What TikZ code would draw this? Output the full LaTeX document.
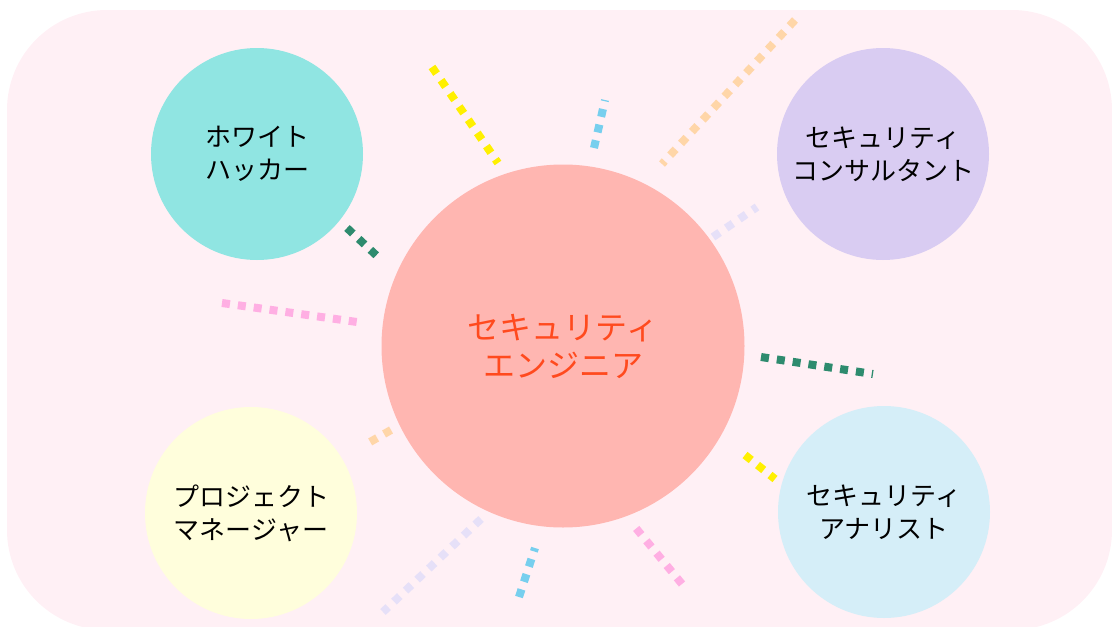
\documentclass[tikz,border=0pt]{standalone}
\usepackage{fontspec}
\newfontfamily\jpfont{Noto Sans CJK JP}
\definecolor{bgpink}{HTML}{FFF0F5}
\definecolor{mainred}{HTML}{FFB6B1}
\definecolor{mainText}{HTML}{FF4A1E}
\definecolor{cTurq}{HTML}{90E5E2}
\definecolor{cLav}{HTML}{D9CCF2}
\definecolor{cYel}{HTML}{FFFEDC}
\definecolor{cBlue}{HTML}{D5EEF8}
\definecolor{rYellow}{HTML}{FFF000}
\definecolor{rBlue}{HTML}{77CFEE}
\definecolor{rPeach}{HTML}{FFD6A8}
\definecolor{rLav}{HTML}{E6E0F8}
\definecolor{rGreen}{HTML}{2E8B6E}
\definecolor{rPink}{HTML}{FFAFE3}
\begin{document}
\begin{tikzpicture}[x=1pt,y=-1pt,
  role/.style={circle,minimum size=212pt,inner sep=0pt,align=center,
    font=\jpfont\fontsize{26}{33}\selectfont,text=black},
  ray/.style={line width=8pt,dash pattern=on 8pt off 8pt}]
\useasboundingbox (0,0) rectangle (1112,627);
\fill[bgpink,rounded corners=100pt] (7,10) rectangle (1112,630);
% rays
\coordinate (r1a) at (432,67);  \coordinate (r1b) at (498,163);
\coordinate (r2a) at (594,148); \coordinate (r2b) at (605,100);
\coordinate (r3a) at (795,20);  \coordinate (r3b) at (662,164);
\coordinate (r4a) at (713,237); \coordinate (r4b) at (757,207);
\coordinate (r5a) at (761,357); \coordinate (r5b) at (873,374);
\coordinate (r6a) at (745,455); \coordinate (r6b) at (775,479);
\coordinate (r7a) at (682,584); \coordinate (r7b) at (635,527);
\coordinate (r8a) at (519,597); \coordinate (r8b) at (535,548);
\coordinate (r9a) at (481,519); \coordinate (r9b) at (383,612);
\coordinate (r10a) at (391,430); \coordinate (r10b) at (370,442);
\coordinate (r11a) at (222,303); \coordinate (r11b) at (357,322);
\coordinate (r12a) at (347,228); \coordinate (r12b) at (377,256);
\draw[ray,rYellow] (r1a) -- (r1b);
\draw[ray,rBlue] (r2a) -- (r2b);
\draw[ray,rPeach] (r3a) -- (r3b);
\draw[ray,rLav] (r4a) -- (r4b);
\draw[ray,rGreen] (r5a) -- (r5b);
\draw[ray,rYellow] (r6a) -- (r6b);
\draw[ray,rPink] (r7a) -- (r7b);
\draw[ray,rBlue] (r8a) -- (r8b);
\draw[ray,rLav] (r9a) -- (r9b);
\draw[ray,rPeach] (r10a) -- (r10b);
\draw[ray,rPink] (r11a) -- (r11b);
\draw[ray,rGreen] (r12a) -- (r12b);
% nodes
\node[circle,fill=mainred,minimum size=363pt,inner sep=0pt,align=center,
  font=\jpfont\fontsize{32}{38}\selectfont,text=mainText] (main) at (563,346) {セキュリティ\\エンジニア};
\node[role,fill=cTurq] (hacker) at (257,154) {ホワイト\\ハッカー};
\node[role,fill=cLav] (consult) at (883,154) {セキュリティ\\コンサルタント};
\node[role,fill=cYel] (pm) at (251,513) {プロジェクト\\マネージャー};
\node[role,fill=cBlue] (analyst) at (884,512) {セキュリティ\\アナリスト};
\end{tikzpicture}
\end{document}
